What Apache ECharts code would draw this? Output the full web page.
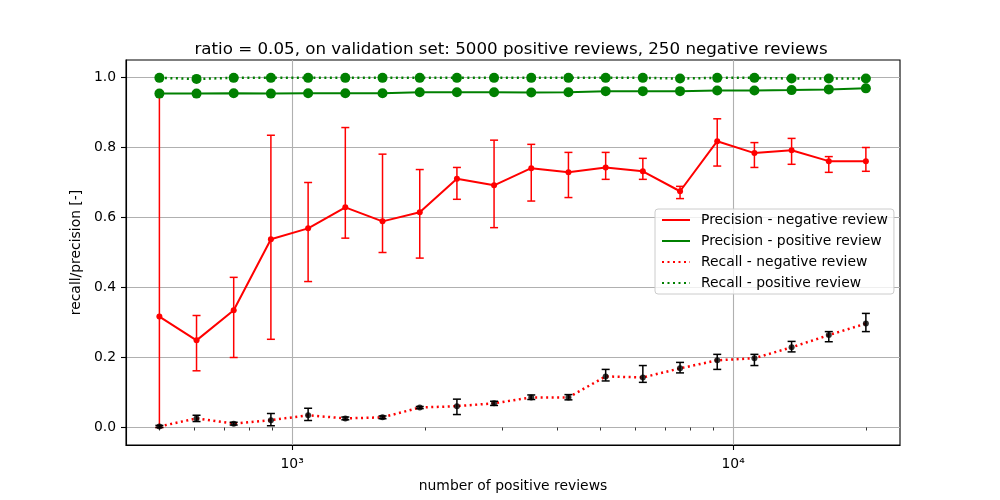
<!DOCTYPE html>
<html>
<head>
<meta charset="utf-8">
<script src="https://cdn.jsdelivr.net/npm/echarts@6/dist/echarts.min.js"></script>
<style>html,body{margin:0;padding:0;background:#fff;}#chart{width:1000px;height:500px;}</style>
</head>
<body>
<div id="chart"></div>
<script>
const reviews = [500, 607, 737, 895, 1087, 1320, 1603, 1947, 2364, 2870, 3485, 4232, 5140, 6241, 7579, 9203, 11175, 13570, 16478, 20000];

const precNeg     = [0.317,0.249,0.335,0.538,0.569,0.629,0.589,0.615,0.711,0.692,0.741,0.729,0.743,0.732,0.675,0.818,0.784,0.792,0.761,0.761];
const precNegLow  = [0.000,0.162,0.200,0.252,0.417,0.541,0.500,0.484,0.652,0.571,0.647,0.657,0.709,0.709,0.654,0.747,0.743,0.752,0.729,0.732];
const precNegHigh = [0.960,0.320,0.429,0.835,0.700,0.857,0.781,0.737,0.743,0.821,0.809,0.786,0.786,0.769,0.689,0.882,0.814,0.826,0.774,0.800];

const precPos = [0.954,0.954,0.955,0.954,0.955,0.955,0.955,0.958,0.958,0.958,0.957,0.958,0.961,0.961,0.961,0.963,0.963,0.964,0.966,0.969];

const recNeg     = [0.003,0.026,0.011,0.021,0.035,0.026,0.029,0.057,0.061,0.069,0.086,0.086,0.146,0.143,0.169,0.192,0.198,0.229,0.264,0.297];
const recNegLow  = [0.000,0.017,0.007,0.005,0.020,0.022,0.025,0.054,0.037,0.063,0.080,0.079,0.133,0.129,0.156,0.166,0.177,0.216,0.245,0.274];
const recNegHigh = [0.006,0.035,0.015,0.040,0.055,0.030,0.033,0.060,0.081,0.075,0.093,0.094,0.166,0.177,0.186,0.209,0.209,0.246,0.274,0.326];

const recPos = [0.999,0.996,0.999,0.999,0.999,0.999,0.999,0.999,0.999,0.999,0.999,0.999,0.999,0.999,0.997,0.999,0.999,0.997,0.997,0.997];

const xMajorTicks = [1000, 10000];
const xMinorTicks = [500,600,700,800,900,2000,3000,4000,5000,6000,7000,8000,9000,20000];
const yTicks = [0, 0.2, 0.4, 0.6, 0.8, 1.0];

const titleText = 'ratio = 0.05, on validation set: 5000 positive reviews, 250 negative reviews';
const names = ['Precision - negative review','Precision - positive review','Recall - negative review','Recall - positive review'];

const FONT = 'DejaVu Sans';
const pairs = (ys) => reviews.map((x, i) => [x, ys[i]]);
const triples = (lo, hi) => reviews.map((x, i) => [x, lo[i], hi[i]]);

function errRender(color) {
  return function (params, api) {
    const x = api.value(0);
    const a = api.coord([x, api.value(1)]);
    const b = api.coord([x, api.value(2)]);
    const cw = 4;
    const st = { stroke: color, lineWidth: 1.5 };
    return {
      type: 'group',
      children: [
        { type: 'line', shape: { x1: a[0], y1: a[1], x2: b[0], y2: b[1] }, style: st },
        { type: 'line', shape: { x1: a[0] - cw, y1: a[1], x2: a[0] + cw, y2: a[1] }, style: st },
        { type: 'line', shape: { x1: b[0] - cw, y1: b[1], x2: b[0] + cw, y2: b[1] }, style: st }
      ]
    };
  };
}

const supMap = { '0':'\u2070','1':'\u00b9','2':'\u00b2','3':'\u00b3','4':'\u2074','5':'\u2075' };

const chart = echarts.init(document.getElementById('chart'), null, { renderer: 'canvas' });
chart.setOption({
  animation: false,
  backgroundColor: '#fff',
  textStyle: { fontFamily: FONT },
  title: {
    text: titleText,
    left: 506, top: 36, textAlign: 'center',
    textStyle: { fontFamily: FONT, fontSize: 16.7, fontWeight: 'normal', color: '#000' }
  },
  grid: { left: 126, right: 100, top: 60, bottom: 55, show: true, borderColor: '#000', borderWidth: 1.1, backgroundColor: 'transparent' },
  legend: {
    orient: 'vertical',
    left: 655, top: 209,
    data: names,
    itemWidth: 28, itemHeight: 14, itemGap: 7,
    padding: [4, 6, 4, 6],
    backgroundColor: 'rgba(255,255,255,0.8)',
    borderColor: '#cccccc', borderWidth: 1, borderRadius: 3,
    itemStyle: { opacity: 0 },
    textStyle: { fontFamily: FONT, fontSize: 13.9, color: '#000', padding: [0, 0, 0, 6] }
  },
  xAxis: [
    {
      type: 'log', logBase: 10, min: 420, max: 23900,
      name: 'number of positive reviews', nameLocation: 'middle', nameGap: 34,
      nameTextStyle: { fontFamily: FONT, fontSize: 13.9, color: '#000' },
      axisLine: { show: true, onZero: false, lineStyle: { color: '#000', width: 1.1 } },
      axisTick: { show: true, customValues: xMajorTicks, length: 5, lineStyle: { color: '#000', width: 1.1 } },
      axisLabel: {
        customValues: xMajorTicks, margin: 12, color: '#000', fontFamily: FONT, fontSize: 13.9,
        formatter: (v) => '10' + String(Math.round(Math.log10(v))).split('').map(c => supMap[c]).join('')
      },
      splitLine: { show: true, lineStyle: { color: '#b0b0b0', width: 1.1 } }
    },
    {
      type: 'log', logBase: 10, min: 420, max: 23900, position: 'bottom',
      axisLine: { show: false },
      axisTick: { show: true, customValues: xMinorTicks, length: 3, lineStyle: { color: '#000', width: 0.8 } },
      axisLabel: { show: false },
      splitLine: { show: false }
    }
  ],
  yAxis: {
    type: 'value', min: -0.05, max: 1.05,
    name: 'recall/precision [-]', nameLocation: 'middle', nameGap: 33,
    nameTextStyle: { fontFamily: FONT, fontSize: 13.9, color: '#000' },
    axisLine: { show: true, onZero: false, lineStyle: { color: '#000', width: 1.1 } },
    axisTick: { show: true, customValues: yTicks, length: 5, lineStyle: { color: '#000', width: 1.1 } },
    axisLabel: { customValues: yTicks, margin: 10, color: '#000', fontFamily: FONT, fontSize: 13.9, formatter: (v) => v.toFixed(1) },
    splitLine: { show: true, lineStyle: { color: '#b0b0b0', width: 1.1 } }
  },
  series: [
    {
      name: 'precNegErr', type: 'custom', xAxisIndex: 0, yAxisIndex: 0, z: 2, silent: true,
      renderItem: errRender('#ff0000'), encode: { x: 0, y: [1, 2] },
      data: triples(precNegLow, precNegHigh)
    },
    {
      name: names[0], type: 'line', z: 3, data: pairs(precNeg),
      symbol: 'circle', symbolSize: 6,
      lineStyle: { color: '#ff0000', width: 2 },
      itemStyle: { color: '#ff0000' }
    },
    {
      name: names[1], type: 'line', z: 4, data: pairs(precPos),
      symbol: 'circle', symbolSize: 10,
      lineStyle: { color: '#008000', width: 2 },
      itemStyle: { color: '#008000' }
    },
    {
      name: names[2], type: 'line', z: 5, data: pairs(recNeg),
      symbol: 'none',
      lineStyle: { color: '#ff0000', width: 2.5, type: [2, 3.5] },
      itemStyle: { color: '#ff0000' }
    },
    {
      name: 'recNegErr', type: 'custom', xAxisIndex: 0, yAxisIndex: 0, z: 6, silent: true,
      renderItem: errRender('#000000'), encode: { x: 0, y: [1, 2] },
      data: triples(recNegLow, recNegHigh)
    },
    {
      name: 'recNegPts', type: 'scatter', z: 7, data: pairs(recNeg),
      symbol: 'circle', symbolSize: 6, itemStyle: { color: '#000' }
    },
    {
      name: names[3], type: 'line', z: 5, data: pairs(recPos),
      symbol: 'circle', symbolSize: 10,
      lineStyle: { color: '#008000', width: 2.5, type: [2, 3.5] },
      itemStyle: { color: '#008000' }
    }
  ]
});
</script>
</body>
</html>
